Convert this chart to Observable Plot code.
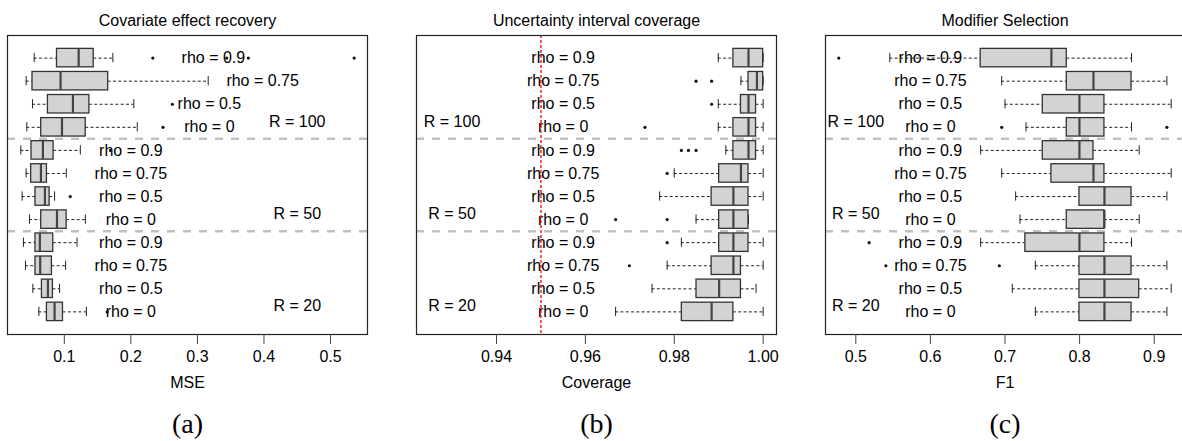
<!DOCTYPE html>
<html><head><meta charset="utf-8">
<script src="https://cdn.jsdelivr.net/npm/d3@7"></script>
<script src="https://cdn.jsdelivr.net/npm/@observablehq/plot@0.6"></script>
<style>
html,body{margin:0;padding:0;background:#fff;}
#fig{position:relative;width:1182px;height:441px;overflow:hidden;background:#fff;}
#fig svg{position:absolute;top:0;}
</style></head><body><div id="fig"></div>
<script>
const groups = ["R = 100", "R = 50", "R = 20"];
const rhos = ["rho = 0.9", "rho = 0.75", "rho = 0.5", "rho = 0"];

// (a) Covariate effect recovery — MSE
const mseLo  = [0.0548, 0.0427, 0.0522, 0.0437, 0.0347, 0.0427, 0.0367, 0.0477, 0.0386, 0.0417, 0.0528, 0.0618];
const mseQ1  = [0.0890, 0.0522, 0.0754, 0.0653, 0.0507, 0.0502, 0.0567, 0.0653, 0.0567, 0.0567, 0.0664, 0.0739];
const mseMed = [0.1216, 0.0944, 0.1130, 0.0965, 0.0679, 0.0649, 0.0709, 0.0890, 0.0633, 0.0638, 0.0754, 0.0854];
const mseQ3  = [0.1442, 0.1659, 0.1377, 0.1322, 0.0839, 0.0739, 0.0779, 0.1035, 0.0834, 0.0814, 0.0829, 0.0980];
const mseHi  = [0.1730, 0.3162, 0.2045, 0.2096, 0.1241, 0.1030, 0.0854, 0.1317, 0.1191, 0.1020, 0.0929, 0.1332];
const mseOut = [[0.233, 0.344, 0.3765, 0.5355], [], [0.2624], [0.2483], [0.1694], [], [0.109], [], [], [], [], [0.1644]];
const mseTicks = [0.1, 0.2, 0.3, 0.4, 0.5];
const mseTickLabels = ["0.1", "0.2", "0.3", "0.4", "0.5"];
const mseRhoX = [0.324, 0.398, 0.318, 0.318, 0.2, 0.2, 0.2, 0.2, 0.2, 0.2, 0.2, 0.2];
const mseGroupX = 0.45;

// (b) Uncertainty interval coverage
const covLo  = [0.9899, 0.9950, 0.9899, 0.9899, 0.9916, 0.9800, 0.9767, 0.9849, 0.9816, 0.9784, 0.9750, 0.9668];
const covQ1  = [0.9933, 0.9967, 0.9950, 0.9933, 0.9933, 0.9901, 0.9884, 0.9901, 0.9901, 0.9884, 0.9850, 0.9817];
const covMed = [0.9967, 0.9986, 0.9967, 0.9967, 0.9967, 0.9950, 0.9933, 0.9933, 0.9933, 0.9933, 0.9901, 0.9884];
const covQ3  = [1.0000, 1.0000, 0.9984, 0.9984, 0.9984, 0.9967, 0.9967, 0.9967, 0.9967, 0.9950, 0.9950, 0.9933];
const covHi  = [1.0000, 1.0000, 1.0000, 1.0000, 1.0000, 1.0000, 1.0000, 0.9967, 1.0000, 1.0000, 0.9984, 1.0000];
const covOut = [[], [0.9849, 0.9884], [0.9884], [0.9734], [0.9816, 0.9832, 0.9849], [0.9784], [], [0.9668, 0.9784], [0.9784], [0.9699], [], []];
const covXlim = [0.925, 1.0];
const covTarget = [0.95];
const covTicks = [0.94, 0.96, 0.98, 1.0];
const covTickLabels = ["0.94", "0.96", "0.98", "1.00"];
const covRhoX = Array(12).fill(0.955);
const covGroupX = 0.930;

// (c) Modifier Selection — F1
const f1Lo  = [0.5456, 0.6956, 0.7000, 0.7282, 0.6674, 0.6956, 0.7143, 0.7201, 0.6674, 0.7407, 0.7098, 0.7407];
const f1Q1  = [0.6674, 0.7828, 0.7506, 0.7828, 0.7506, 0.7622, 0.7998, 0.7828, 0.7273, 0.7998, 0.7998, 0.7998];
const f1Med = [0.7622, 0.8186, 0.7998, 0.7998, 0.7998, 0.8186, 0.8333, 0.8333, 0.7998, 0.8333, 0.8333, 0.8333];
const f1Q3  = [0.7828, 0.8696, 0.8333, 0.8333, 0.8186, 0.8333, 0.8696, 0.8333, 0.8333, 0.8696, 0.8799, 0.8696];
const f1Hi  = [0.8696, 0.9170, 0.9228, 0.8696, 0.8799, 0.9228, 0.9170, 0.8799, 0.8696, 0.9170, 0.9228, 0.9170];
const f1Out = [[0.4772], [], [], [0.6956, 0.917], [], [], [], [], [0.5179], [0.5403, 0.6924], [], []];
const f1Ticks = [0.5, 0.6, 0.7, 0.8, 0.9];
const f1TickLabels = ["0.5", "0.6", "0.7", "0.8", "0.9"];
const f1RhoX = Array(12).fill(0.6);
const f1GroupX = 0.5;

const SANS = "'Liberation Sans', Arial, Helvetica, sans-serif";
const SERIF = "'Liberation Serif', 'DejaVu Serif', serif";

function panel(o) {
  const n = o.lo.length;
  const rows = d3.range(n).map(i => ({
    i, pos: n - i, group: groups[Math.floor(i / 4)], rho: rhos[i % 4],
    lo: o.lo[i], q1: o.q1[i], med: o.med[i], q3: o.q3[i], hi: o.hi[i], lx: o.rhoX[i]
  }));
  const outs = rows.flatMap(r => o.out[r.i].map(v => ({pos: r.pos, v})));
  const ext = o.xlim ?? d3.extent([...o.lo, ...o.hi, ...o.out.flat()]);
  const pad = 0.04 * (ext[1] - ext[0]);
  const yDom = [0.5 - 0.04 * n, n + 0.5 + 0.04 * n];
  const seps = groups.slice(1).map((g, k) => rows[k * 4 + 3].pos - 0.5);
  const glab = groups.map((g, k) => ({g, pos: rows[k * 4 + 3].pos + 0.25}));
  const hw = 0.4, sw = 0.2;
  const marks = [
    Plot.text(rows, {x: "lx", y: "pos", text: "rho", fontSize: 16, fill: "#000"}),
    Plot.text(glab, {x: o.groupX, y: "pos", text: "g", fontSize: 16, fill: "#000"}),
  ];
  if (o.target) marks.push(Plot.ruleX(o.target, {stroke: "red", strokeWidth: 1.3, strokeDasharray: "3,2"}));
  marks.push(
    Plot.ruleY(seps, {stroke: "#c0c0c0", strokeWidth: 2.5, strokeDasharray: "8,8"}),
    Plot.ruleY(rows, {y: "pos", x1: "lo", x2: "q1", stroke: "#222", strokeDasharray: "3,2.3"}),
    Plot.ruleY(rows, {y: "pos", x1: "q3", x2: "hi", stroke: "#222", strokeDasharray: "3,2.3"}),
    Plot.ruleX(rows, {x: "lo", y1: d => d.pos - sw, y2: d => d.pos + sw, stroke: "#222"}),
    Plot.ruleX(rows, {x: "hi", y1: d => d.pos - sw, y2: d => d.pos + sw, stroke: "#222"}),
    Plot.rect(rows, {x1: "q1", x2: "q3", y1: d => d.pos - hw, y2: d => d.pos + hw, fill: "#d3d3d3", stroke: "#333", strokeWidth: 1.3}),
    Plot.ruleX(rows, {x: "med", y1: d => d.pos - hw, y2: d => d.pos + hw, stroke: "#444", strokeWidth: 2.2}),
    Plot.dot(outs, {x: "v", y: "pos", r: 1.6, fill: "#111", stroke: null}),
    Plot.frame({stroke: "#222", strokeWidth: 1.2}),
    Plot.axisX({ticks: o.ticks, tickFormat: d => o.tickLabels[o.ticks.indexOf(d)], tickSize: 10, tickPadding: 6,
      fontSize: 16, stroke: "#444", fill: "#000", label: null}),
    Plot.text([o.title], {frameAnchor: "top", dy: -21, fontSize: 16, fill: "#000"}),
    Plot.text([o.xlabel], {frameAnchor: "bottom", dy: 53, fontSize: 16, fill: "#000"}),
    Plot.text([o.caption], {frameAnchor: "bottom", dy: 98, lineAnchor: "bottom", fontSize: 28, fontFamily: SERIF, fill: "#000"})
  );
  const svg = Plot.plot({
    width: o.width, height: 441,
    marginLeft: o.ml, marginRight: o.mr, marginTop: 35, marginBottom: 107,
    x: {domain: [ext[0] - pad, ext[1] + pad]},
    y: {domain: yDom, axis: null},
    style: {fontFamily: SANS, fontSize: "16px", background: "white", color: "#000", maxWidth: "none", overflow: "visible"},
    marks
  });
  svg.style.left = o.left + "px";
  document.getElementById("fig").appendChild(svg);
}

panel({title: "Covariate effect recovery", xlabel: "MSE", caption: "(a)",
  lo: mseLo, q1: mseQ1, med: mseMed, q3: mseQ3, hi: mseHi, out: mseOut,
  ticks: mseTicks, tickLabels: mseTickLabels, rhoX: mseRhoX, groupX: mseGroupX,
  left: 0, width: 392, ml: 7, mr: 25});
panel({title: "Uncertainty interval coverage", xlabel: "Coverage", caption: "(b)",
  lo: covLo, q1: covQ1, med: covMed, q3: covQ3, hi: covHi, out: covOut, xlim: covXlim, target: covTarget,
  ticks: covTicks, tickLabels: covTickLabels, rhoX: covRhoX, groupX: covGroupX,
  left: 392, width: 398, ml: 24, mr: 14});
panel({title: "Modifier Selection", xlabel: "F1", caption: "(c)",
  lo: f1Lo, q1: f1Q1, med: f1Med, q3: f1Q3, hi: f1Hi, out: f1Out,
  ticks: f1Ticks, tickLabels: f1TickLabels, rhoX: f1RhoX, groupX: f1GroupX,
  left: 790, width: 404, ml: 35, mr: 10});
</script></body></html>
